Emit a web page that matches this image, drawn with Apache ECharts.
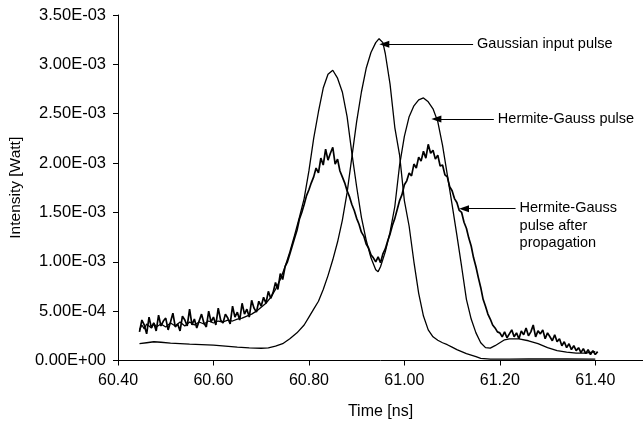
<!DOCTYPE html>
<html>
<head>
<meta charset="utf-8">
<script src="https://cdn.jsdelivr.net/npm/echarts@6/dist/echarts.min.js"></script>
<style>
html,body{margin:0;padding:0;background:#fff;}
#c{width:643px;height:426px;}
</style>
</head>
<body>
<div id="c"></div>
<script>
// Intensities in units of 1E-03 W, time in ns.
var xTicks = [60.4, 60.6, 60.8, 61.0, 61.2, 61.4];
var xTickLabels = ['60.40', '60.60', '60.80', '61.00', '61.20', '61.40'];
var yTicks = [0, 0.5, 1.0, 1.5, 2.0, 2.5, 3.0, 3.5];
var yTickLabels = ['0.00E+00', '5.00E-04', '1.00E-03', '1.50E-03', '2.00E-03', '2.50E-03', '3.00E-03', '3.50E-03'];

var gaussianInput = [
  [60.445,0.17],[60.46,0.18],[60.475,0.19],[60.49,0.185],[60.51,0.175],[60.53,0.17],[60.55,0.165],
  [60.575,0.16],[60.60,0.155],[60.625,0.145],[60.65,0.135],[60.675,0.128],[60.70,0.124],[60.715,0.128],
  [60.73,0.145],[60.745,0.17],[60.76,0.22],[60.775,0.28],[60.79,0.36],[60.80,0.44],[60.81,0.52],
  [60.82,0.60],[60.83,0.72],[60.84,0.86],[60.85,1.02],[60.86,1.20],[60.87,1.42],[60.88,1.70],
  [60.89,2.06],[60.90,2.42],[60.91,2.72],[60.92,2.96],[60.93,3.12],[60.94,3.22],[60.947,3.26],
  [60.955,3.22],[60.96,3.11],[60.97,2.80],[60.98,2.36],[60.99,2.08],[61.00,1.62],[61.01,1.36],
  [61.02,1.00],[61.03,0.68],[61.04,0.45],[61.05,0.31],[61.06,0.24],[61.07,0.205],[61.08,0.18],
  [61.09,0.16],[61.10,0.135],[61.11,0.11],[61.12,0.09],[61.13,0.07],[61.14,0.055],[61.15,0.04],
  [61.16,0.022],[61.18,0.014],[61.22,0.014],[61.26,0.016],[61.30,0.015],[61.34,0.016],[61.40,0.014]
];

var hermiteGauss = [
  [60.445,0.31],[60.45,0.36],[60.455,0.32],[60.46,0.37],[60.47,0.33],[60.475,0.38],[60.48,0.34],
  [60.49,0.37],[60.50,0.34],[60.51,0.38],[60.52,0.35],[60.53,0.39],[60.54,0.35],[60.55,0.39],
  [60.56,0.36],[60.57,0.39],[60.58,0.37],[60.59,0.40],[60.60,0.38],[60.61,0.40],[60.62,0.39],
  [60.63,0.41],[60.64,0.40],[60.65,0.42],[60.66,0.43],[60.67,0.45],[60.68,0.47],[60.69,0.50],
  [60.70,0.54],[60.71,0.58],[60.72,0.64],[60.73,0.72],[60.74,0.82],[60.75,0.95],[60.76,1.10],
  [60.77,1.27],[60.78,1.45],[60.79,1.64],[60.80,1.92],[60.81,2.25],[60.82,2.52],[60.83,2.76],
  [60.84,2.90],[60.85,2.94],[60.86,2.86],[60.87,2.72],[60.88,2.47],[60.89,2.10],[60.90,1.76],
  [60.91,1.45],[60.92,1.22],[60.93,1.04],[60.94,0.92],[60.945,0.90],[60.95,0.95],[60.96,1.10],
  [60.97,1.30],[60.98,1.56],[60.99,1.98],[61.00,2.27],[61.01,2.47],[61.02,2.58],[61.03,2.64],
  [61.04,2.66],[61.05,2.62],[61.06,2.55],[61.07,2.42],[61.08,2.18],[61.09,1.88],[61.10,1.58],
  [61.11,1.27],[61.12,0.95],[61.13,0.62],[61.14,0.42],[61.15,0.28],[61.16,0.18],[61.17,0.13],
  [61.18,0.125],[61.19,0.15],[61.20,0.18],[61.21,0.21],[61.22,0.22],[61.24,0.22],[61.26,0.20],
  [61.28,0.17],[61.30,0.13],[61.32,0.10],[61.34,0.085],[61.36,0.075],[61.38,0.075],[61.40,0.09]
];

var afterPropagation = [
  [60.445,0.29],[60.450,0.41],[60.455,0.36],[60.460,0.27],[60.465,0.44],[60.470,0.33],[60.475,0.38],
  [60.480,0.30],[60.485,0.46],[60.490,0.35],[60.495,0.40],[60.500,0.43],[60.505,0.31],[60.510,0.39],
  [60.515,0.48],[60.520,0.34],[60.525,0.37],[60.530,0.30],[60.535,0.45],[60.540,0.41],[60.545,0.35],
  [60.550,0.52],[60.555,0.36],[60.560,0.42],[60.565,0.33],[60.570,0.40],[60.575,0.47],[60.580,0.38],
  [60.585,0.34],[60.590,0.50],[60.595,0.39],[60.600,0.44],[60.605,0.36],[60.610,0.53],[60.615,0.41],
  [60.620,0.38],[60.625,0.47],[60.630,0.43],[60.635,0.37],[60.640,0.55],[60.645,0.44],[60.650,0.49],
  [60.655,0.41],[60.660,0.58],[60.665,0.47],[60.670,0.52],[60.675,0.44],[60.680,0.61],[60.685,0.53],
  [60.690,0.49],[60.695,0.60],[60.700,0.55],[60.705,0.64],[60.710,0.58],[60.715,0.70],[60.720,0.63],
  [60.725,0.69],[60.730,0.79],[60.735,0.72],[60.740,0.88],[60.745,0.82],[60.750,0.95],[60.755,1.00],
  [60.760,1.08],[60.765,1.16],[60.770,1.24],[60.775,1.32],[60.780,1.43],[60.785,1.50],[60.790,1.58],
  [60.795,1.67],[60.800,1.73],[60.805,1.80],[60.810,1.86],[60.815,1.95],[60.820,1.90],[60.825,2.05],
  [60.830,1.98],[60.835,2.14],[60.840,2.03],[60.845,2.10],[60.850,2.16],[60.855,1.99],[60.860,2.04],
  [60.865,1.92],[60.870,1.86],[60.875,1.80],[60.880,1.72],[60.885,1.66],[60.890,1.58],[60.895,1.52],
  [60.900,1.44],[60.905,1.38],[60.910,1.30],[60.915,1.26],[60.920,1.18],[60.925,1.14],[60.930,1.07],
  [60.935,1.04],[60.940,1.00],[60.945,1.05],[60.950,0.99],[60.955,1.08],[60.960,1.13],[60.965,1.21],
  [60.970,1.28],[60.975,1.37],[60.980,1.44],[60.985,1.53],[60.990,1.62],[60.995,1.68],[61.000,1.78],
  [61.005,1.82],[61.010,1.90],[61.015,1.87],[61.020,1.99],[61.025,1.95],[61.030,2.06],[61.035,2.02],
  [61.040,2.12],[61.045,2.05],[61.050,2.19],[61.055,2.10],[61.060,2.13],[61.065,2.04],[61.070,2.08],
  [61.075,1.97],[61.080,1.98],[61.085,1.88],[61.090,1.86],[61.095,1.76],[61.100,1.72],[61.105,1.64],
  [61.110,1.60],[61.115,1.52],[61.120,1.50],[61.125,1.40],[61.130,1.34],[61.135,1.24],[61.140,1.16],
  [61.145,1.04],[61.150,0.95],[61.155,0.84],[61.160,0.74],[61.165,0.62],[61.170,0.55],[61.175,0.47],
  [61.180,0.42],[61.185,0.36],[61.190,0.33],[61.195,0.29],[61.200,0.28],[61.205,0.24],[61.210,0.29],
  [61.215,0.23],[61.220,0.27],[61.225,0.31],[61.230,0.24],[61.235,0.28],[61.240,0.22],[61.245,0.30],
  [61.250,0.26],[61.255,0.33],[61.260,0.25],[61.265,0.29],[61.270,0.36],[61.275,0.24],[61.280,0.30],
  [61.285,0.27],[61.290,0.31],[61.295,0.22],[61.300,0.28],[61.305,0.24],[61.310,0.20],[61.315,0.26],
  [61.320,0.19],[61.325,0.22],[61.330,0.15],[61.335,0.19],[61.340,0.13],[61.345,0.17],[61.350,0.11],
  [61.355,0.15],[61.360,0.10],[61.365,0.13],[61.370,0.08],[61.375,0.12],[61.380,0.07],[61.385,0.11],
  [61.390,0.06],[61.395,0.10],[61.400,0.06],[61.405,0.09]
];

// Annotation arrows: [tail, head] in data coordinates, and their texts
var annotationNames = ['Gaussian input pulse', 'Hermite-Gauss pulse', 'Hermite-Gauss\npulse after\npropagation'];
var arrowTails = [[61.144, 3.204], [61.1875, 2.447], [61.233, 1.538]];
var arrowHeads = [[60.958, 3.204], [61.067, 2.447], [61.125, 1.538]];

var chart = echarts.init(document.getElementById('c'), null, {renderer: 'canvas'});
var FONT = '"Liberation Sans", Arial, sans-serif';

function tickLabel(ticks, labels) {
  return function (v) {
    for (var i = 0; i < ticks.length; i++) {
      if (Math.abs(ticks[i] - v) < 1e-6) return labels[i];
    }
    return '';
  };
}

var markLineData = arrowTails.map(function (t, i) {
  return [{coord: t}, {coord: arrowHeads[i]}];
});

function lineSeries(name, data, width) {
  return {
    name: name,
    type: 'line',
    data: data,
    showSymbol: false,
    symbol: 'none',
    animation: false,
    silent: true,
    lineStyle: {color: '#000', width: width},
    z: 3
  };
}

var series = [
  lineSeries('Gaussian input pulse', gaussianInput, 1.3),
  lineSeries('Hermite-Gauss pulse', hermiteGauss, 1.3),
  lineSeries('Hermite-Gauss pulse after propagation', afterPropagation, 1.7)
];
series[0].markLine = {
  silent: true,
  animation: false,
  symbol: ['none', 'triangle'],
  symbolSize: [7, 10],
  label: {show: false},
  lineStyle: {color: '#000', width: 1.2, type: 'solid'},
  data: markLineData
};

chart.setOption({
  animation: false,
  backgroundColor: '#fff',
  grid: {left: 118, right: -3, top: 15, bottom: 65.5},
  xAxis: {
    type: 'value',
    min: 60.4, max: 61.5, interval: 0.2,
    name: 'Time [ns]',
    nameLocation: 'middle',
    nameGap: 43,
    nameTextStyle: {color: '#000', fontSize: 16, fontFamily: FONT, verticalAlign: 'top'},
    axisLine: {lineStyle: {color: '#000', width: 1}},
    axisTick: {show: true, length: 5, lineStyle: {color: '#000'}},
    axisLabel: {color: '#000', fontSize: 16, fontFamily: FONT, margin: 12, formatter: tickLabel(xTicks, xTickLabels), showMaxLabel: false},
    splitLine: {show: false}
  },
  yAxis: {
    type: 'value',
    min: 0, max: 3.5, interval: 0.5,
    name: 'Intensity [Watt]',
    nameLocation: 'middle',
    nameGap: 93,
    nameTextStyle: {color: '#000', fontSize: 15.5, fontFamily: FONT},
    axisLine: {show: true, lineStyle: {color: '#000', width: 1}},
    axisTick: {show: true, length: 5, lineStyle: {color: '#000'}},
    axisLabel: {color: '#000', fontSize: 16.5, fontFamily: FONT, margin: 12, formatter: tickLabel(yTicks, yTickLabels)},
    splitLine: {show: false}
  },
  series: series
});

// Text of the annotations placed at the tail of each arrow
var gr = annotationNames.map(function (txt, i) {
  var p = chart.convertToPixel({gridIndex: 0}, arrowTails[i]);
  return {
    type: 'text',
    x: p[0] + 4,
    y: p[1] - 9,
    silent: true,
    style: {
      text: txt,
      fill: '#000',
      font: '14.5px ' + FONT,
      textAlign: 'left',
      textVerticalAlign: 'top',
      lineHeight: 17.5
    }
  };
});
chart.setOption({graphic: gr});
</script>
</body>
</html>
